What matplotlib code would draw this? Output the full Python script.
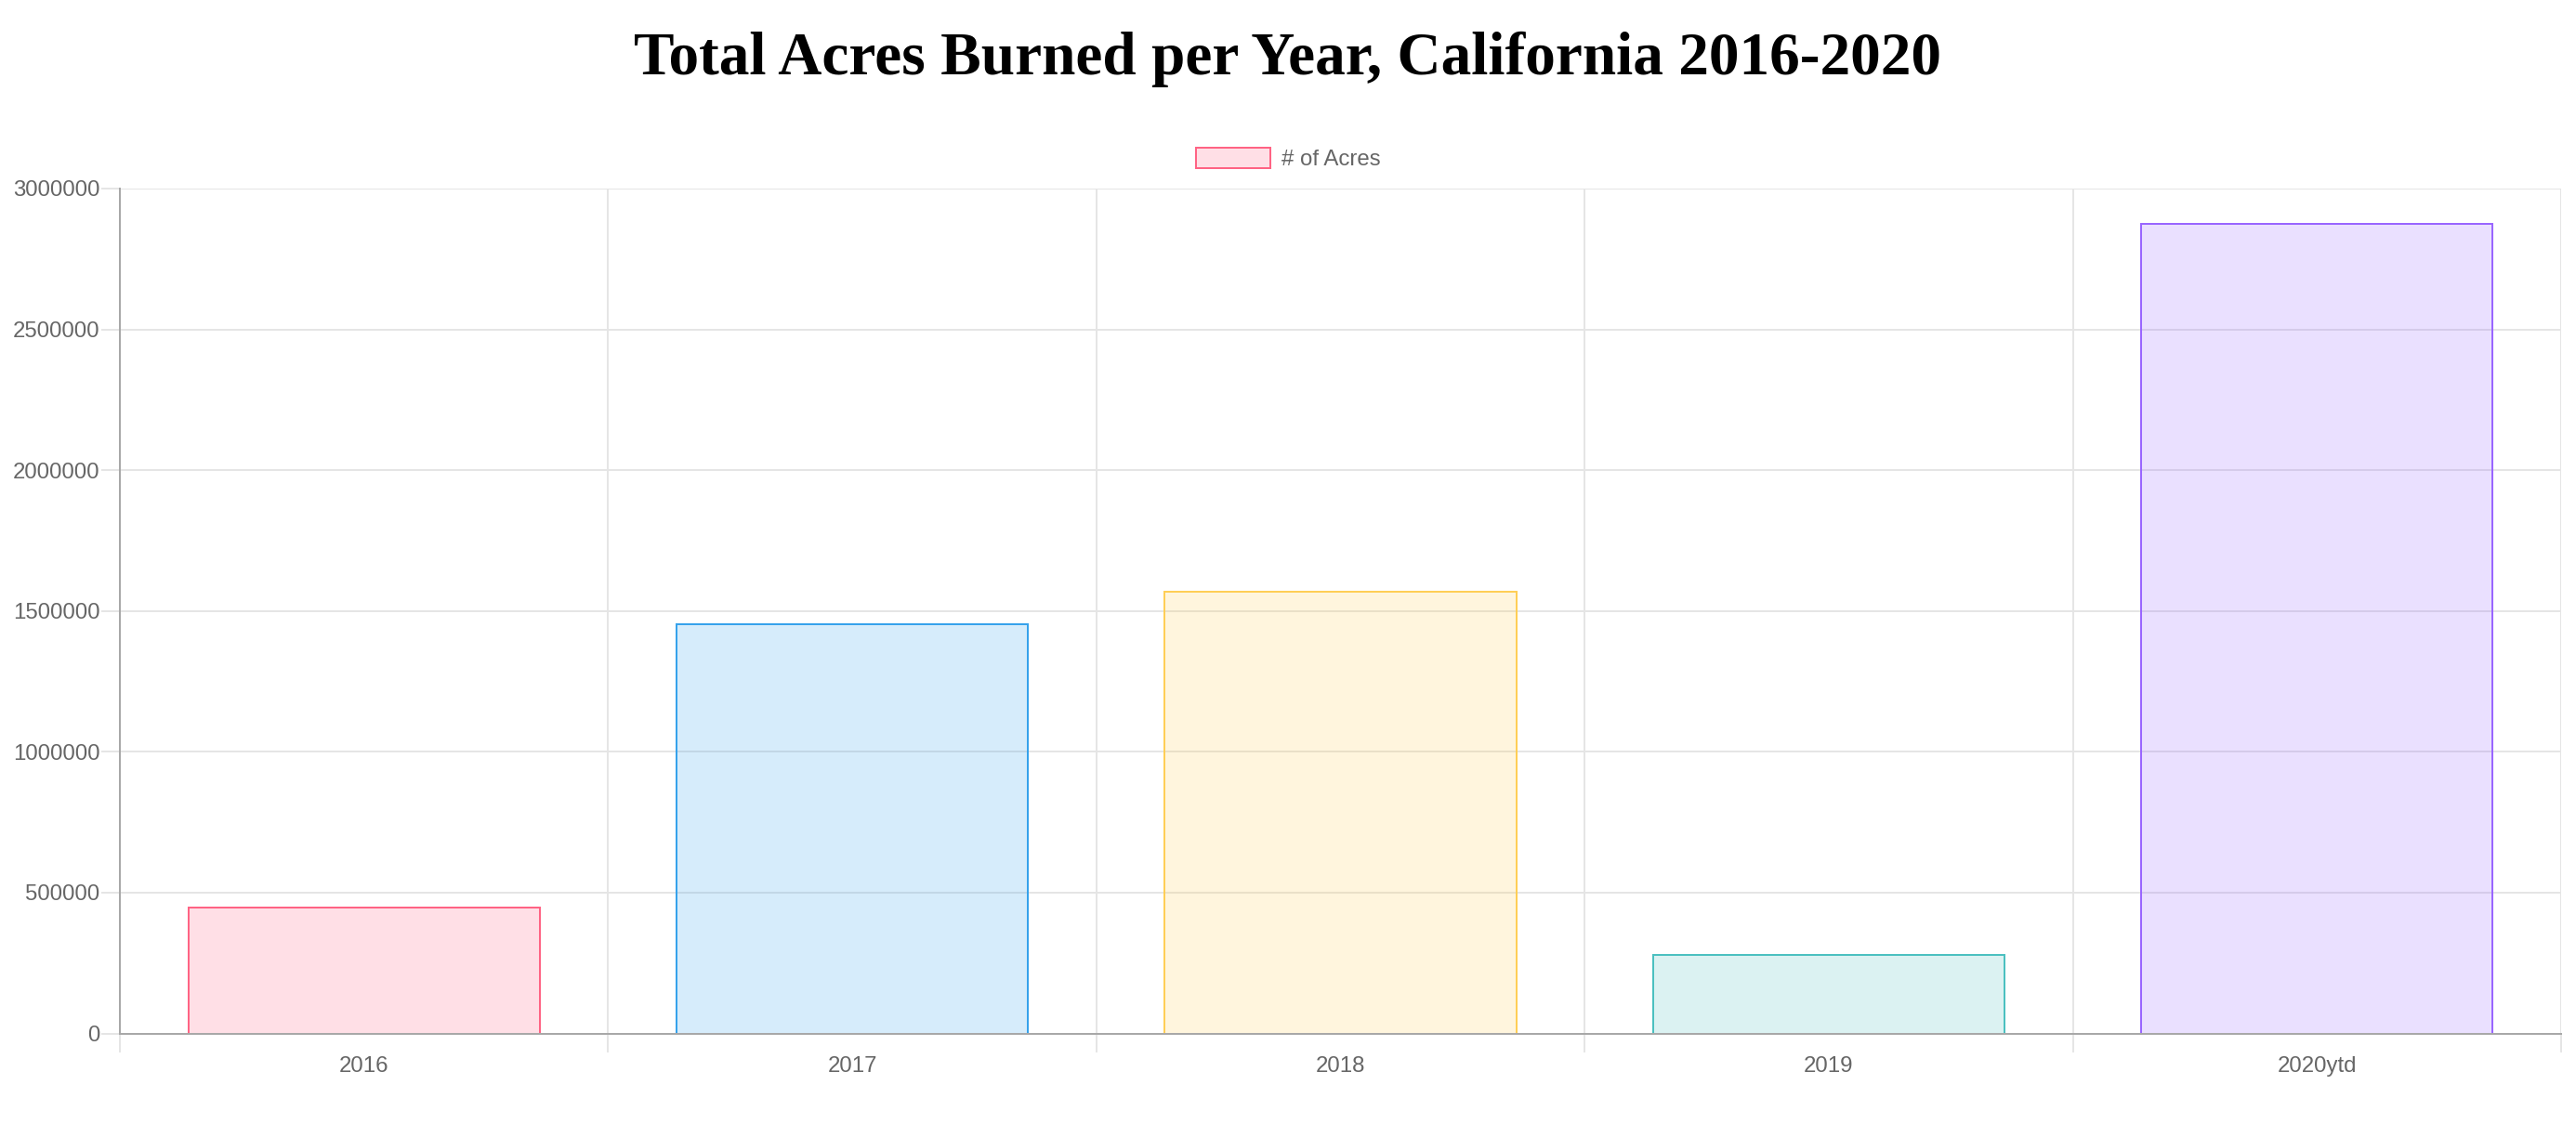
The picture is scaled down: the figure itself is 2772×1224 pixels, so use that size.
import matplotlib.pyplot as plt
from matplotlib.patches import Patch
from matplotlib.colors import to_rgba

years = ["2016", "2017", "2018", "2019", "2020ytd"]
acres = [446000, 1452000, 1568000, 278000, 2876000]
edge_colors = ["#ff6384", "#36a2eb", "#ffce56", "#4bc0c0", "#9966ff"]
y_ticks = [0, 500000, 1000000, 1500000, 2000000, 2500000, 3000000]

fill_colors = [to_rgba(c, 0.2) for c in edge_colors]

W, H = 2772, 1224
px = 0.72  # points per pixel at dpi 100
grid_col = "#e5e5e5"
axis_col = "#a8a8a8"
text_col = "#666666"

fig = plt.figure(figsize=(W / 100, H / 100), dpi=100)
ax = fig.add_axes([129 / W, 1 - 1112.5 / H, (2756 - 129) / W, (1112.5 - 203) / H])

x = list(range(len(years)))
ax.bar(x, acres, width=0.72, color=fill_colors, edgecolor=edge_colors,
       linewidth=2 * px, zorder=3)

ax.set_xlim(-0.5, len(years) - 0.5)
ax.set_ylim(0, 3000000)

# category labels at centres, grid lines on the category boundaries
ax.set_xticks(x)
ax.set_xticklabels(years)
ax.set_xticks([i - 0.5 for i in range(len(years) + 1)], minor=True)
ax.tick_params(axis="x", which="major", length=0, pad=17.5,
               labelsize=17.3, labelcolor=text_col)
ax.tick_params(axis="x", which="minor", length=20 * px, width=2 * px,
               color=grid_col, direction="out")
ax.xaxis.grid(True, which="minor", color=grid_col, linewidth=2 * px)
ax.xaxis.get_minor_ticks()[0].tick1line.set_color(axis_col)

ax.set_yticks(y_ticks)
ax.set_yticklabels([str(v) for v in y_ticks])
ax.tick_params(axis="y", length=20 * px, width=2 * px, color=grid_col,
               pad=1, labelsize=17.3, labelcolor=text_col)
ax.yaxis.grid(True, color=grid_col, linewidth=2 * px)
ax.set_axisbelow(True)

for side in ["top", "right"]:
    ax.spines[side].set_visible(False)
for side in ["left", "bottom"]:
    ax.spines[side].set_color(axis_col)
    ax.spines[side].set_linewidth(2 * px)
    ax.spines[side].set_zorder(4)

for t in ax.get_xticklabels() + ax.get_yticklabels():
    t.set_fontfamily("Liberation Sans")

fig.text(0.5, 1 - 80 / H, "Total Acres Burned per Year, California 2016-2020",
         ha="center", va="baseline", fontsize=47, fontweight="bold",
         family="Liberation Serif", color="black")

handle = Patch(facecolor=fill_colors[0], edgecolor=edge_colors[0], linewidth=2 * px)
fig.legend([handle], ["# of Acres"], loc="center", bbox_to_anchor=(0.5, 1 - 171 / H),
           frameon=False, handlelength=80 / 24, handleheight=25 / 24,
           handletextpad=0.5, borderpad=0,
           prop={"family": "Liberation Sans", "size": 17.3}, labelcolor=text_col)

fig.savefig("out.png", dpi=100, facecolor="white")
